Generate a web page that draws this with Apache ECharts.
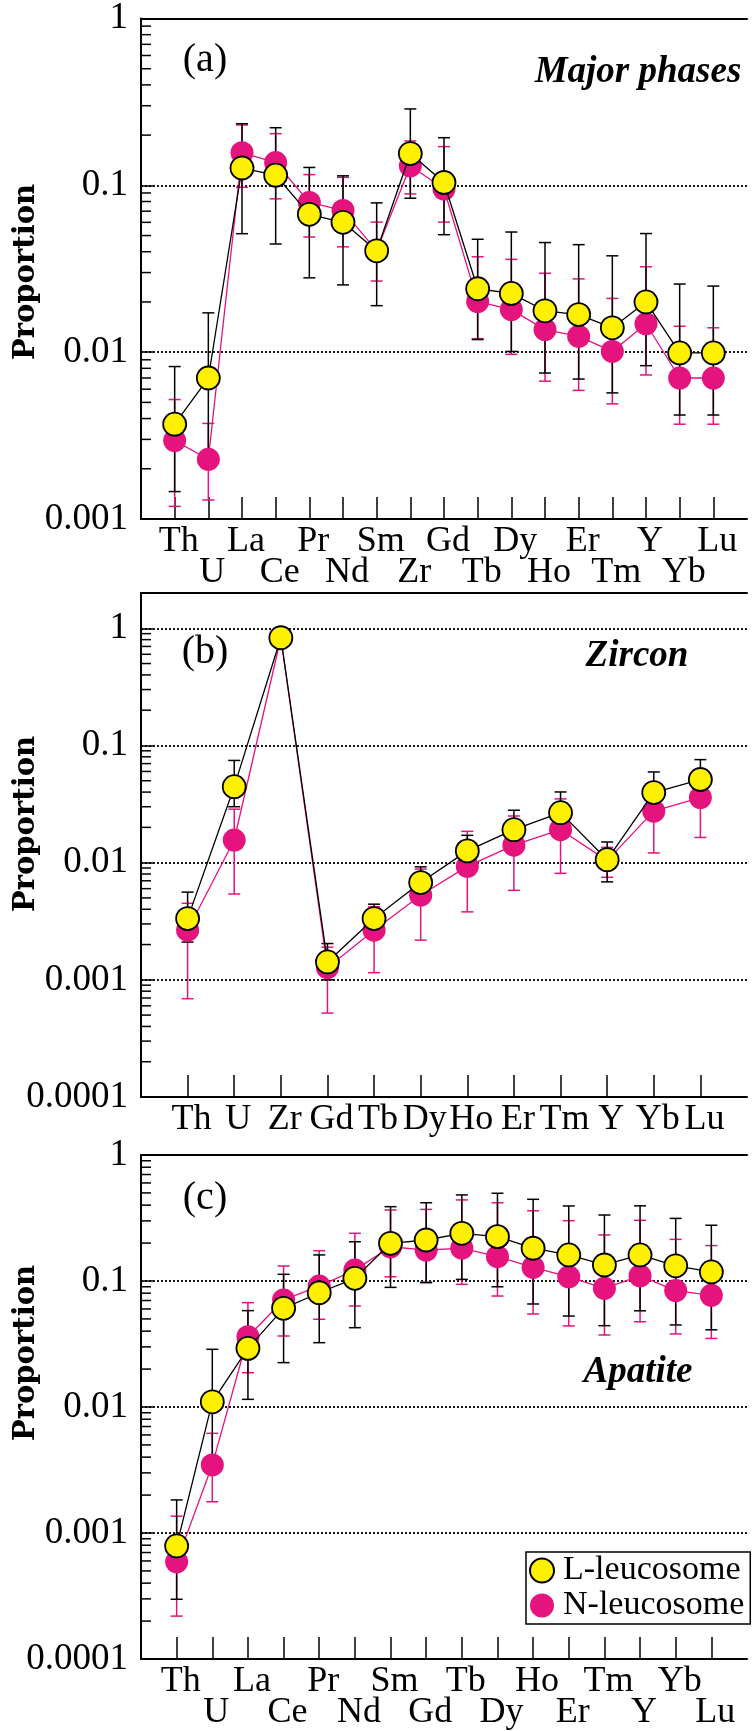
<!DOCTYPE html>
<html>
<head>
<meta charset="utf-8">
<title>Proportion</title>
<script src="https://cdn.jsdelivr.net/npm/echarts@6/dist/echarts.min.js"></script>
<style>html,body{margin:0;padding:0;background:#fff;}</style>
</head>
<body>
<div id="main" style="width:754px;height:1731px;"></div>
<script>
// (a) Major phases
var catsA = ['Th','U','La','Ce','Pr','Nd','Sm','Zr','Gd','Tb','Dy','Ho','Er','Tm','Y','Yb','Lu'];
var aL   = [0.0037,0.0070,0.127,0.115,0.067,0.060,0.0405,0.155,0.104,0.024,0.0225,0.0177,0.0168,0.0140,0.0200,0.0099,0.0099];
var aN   = [0.00295,0.00228,0.157,0.137,0.079,0.0707,0.0405,0.131,0.095,0.0201,0.0180,0.01365,0.01245,0.0101,0.0148,0.0070,0.0070];
var aLlo = [0.00146,0.0025,0.0513,0.0445,0.0279,0.0253,0.0190,0.0837,0.0506,0.0119,0.0101,0.0075,0.0069,0.0057,0.0083,0.0042,0.0042];
var aLhi = [0.0082,0.0172,0.234,0.2215,0.128,0.114,0.0785,0.287,0.193,0.0475,0.0525,0.0454,0.0441,0.0378,0.0514,0.0256,0.0249];
var aNlo = [0.00119,0.0013,0.0973,0.083,0.049,0.0428,0.0267,0.0888,0.0602,0.01205,0.0097,0.0067,0.0059,0.0049,0.0073,0.0037,0.0037];
var aNhi = [0.0052,0.00374,0.23,0.204,0.116,0.1116,0.0602,0.1845,0.1707,0.0373,0.036,0.0297,0.0275,0.021,0.0325,0.0143,0.0140];

// (b) Zircon
var catsB = ['Th','U','Zr','Gd','Tb','Dy','Ho','Er','Tm','Y','Yb','Lu'];
var bL   = [0.00333,0.0445,0.83,0.00142,0.00333,0.00676,0.0126,0.0191,0.0267,0.0106,0.0396,0.0512];
var bN   = [0.00265,0.0156,0.83,0.00127,0.00265,0.00527,0.0093,0.0141,0.0191,0.0104,0.0275,0.0359];
var bLlo = [0.0021,0.030,null,0.0010,0.0025,0.0050,0.0090,0.0140,0.0190,0.00685,0.027,0.037];
var bLhi = [0.0056,0.0745,null,0.00204,0.00442,0.0092,0.0171,0.028,0.0401,0.0150,0.0594,0.0757];
var bNlo = [0.00069,0.0054,null,0.00052,0.00115,0.00218,0.0038,0.0058,0.0081,0.0075,0.0121,0.0164];
var bNhi = [0.0045,0.0286,null,0.0019,0.0042,0.0088,0.0185,0.025,0.035,0.0135,0.045,0.060];

// (c) Apatite
var catsC = ['Th','U','La','Ce','Pr','Nd','Sm','Gd','Tb','Dy','Ho','Er','Tm','Y','Yb','Lu'];
var cL   = [0.00079,0.0110,0.0292,0.0607,0.0807,0.105,0.199,0.2115,0.239,0.225,0.182,0.161,0.134,0.161,0.132,0.118];
var cN   = [0.00059,0.00347,0.0361,0.0707,0.0912,0.122,0.187,0.176,0.182,0.156,0.128,0.108,0.0875,0.110,0.084,0.077];
var cLlo = [0.000298,0.004,0.0115,0.0225,0.0324,0.0426,0.089,0.097,0.103,0.090,0.0657,0.0527,0.0442,0.058,0.0448,0.0410];
var cLhi = [0.00183,0.0287,0.0582,0.113,0.161,0.205,0.389,0.418,0.482,0.497,0.445,0.394,0.334,0.395,0.314,0.277];
var cNlo = [0.000219,0.00177,0.0187,0.0366,0.0497,0.0633,0.108,0.098,0.094,0.076,0.0547,0.044,0.0373,0.0475,0.038,0.0350];
var cNhi = [0.00136,0.00618,0.0673,0.1315,0.174,0.239,0.366,0.37,0.44,0.418,0.361,0.301,0.232,0.303,0.214,0.191];

var SERIF = '"Liberation Serif", "Times New Roman", serif';
var YEL = '#fff000', MAG = '#e5137d';

var chart = echarts.init(document.getElementById('main'));

function padCats(cats) { return [''].concat(cats, ['']); }

function decadeLabel(v) {
    var l = Math.log10(v), e = Math.round(l);
    if (Math.abs(l - e) > 1e-6) return '';
    return e >= 0 ? String(Math.pow(10, e)) : Math.pow(10, e).toFixed(-e);
}

// minor log ticks 2..9 of each decade on the left axis
function minorTicks(min, max) {
    var out = [];
    for (var e = Math.floor(Math.log10(min)); e <= Math.ceil(Math.log10(max)); e++) {
        for (var k = 2; k <= 9; k++) {
            var v = k * Math.pow(10, e);
            if (v > min * 1.0001 && v < max * 0.9999) out.push([0, v]);
        }
    }
    return out;
}

function minorTickItem(params, api) {
    var p = api.coord([0, api.value(1)]);
    return { type: 'line', shape: { x1: p[0], y1: p[1], x2: p[0] + 10, y2: p[1] },
             style: { stroke: '#000', lineWidth: 1.5 } };
}

function errItem(color) {
    return function (params, api) {
        var x = api.value(0);
        var a = api.coord([x, api.value(2)]), b = api.coord([x, api.value(1)]);
        var w = 6, st = { stroke: color, lineWidth: 1.5 };
        return { type: 'group', children: [
            { type: 'line', shape: { x1: a[0], y1: a[1], x2: b[0], y2: b[1] }, style: st },
            { type: 'line', shape: { x1: a[0] - w, y1: a[1], x2: a[0] + w, y2: a[1] }, style: st },
            { type: 'line', shape: { x1: b[0] - w, y1: b[1], x2: b[0] + w, y2: b[1] }, style: st }
        ]};
    };
}

function errData(lo, hi) {
    var out = [];
    lo.forEach(function (v, i) { if (v != null && hi[i] != null) out.push([i + 1, v, hi[i]]); });
    return out;
}
function pts(vals) { return vals.map(function (v, i) { return [i + 1, v]; }); }

var grids = [], xAxes = [], topAxes = [], yAxes = [], series = [];
var panels = [
    { cats: catsA, L: aL, N: aN, Llo: aLlo, Lhi: aLhi, Nlo: aNlo, Nhi: aNhi, min: 0.001, max: 1, top: 15, twoRows: true },
    { cats: catsB, L: bL, N: bN, Llo: bLlo, Lhi: bLhi, Nlo: bNlo, Nhi: bNhi, min: 0.0001, max: 2, top: 593, twoRows: false },
    { cats: catsC, L: cL, N: cN, Llo: cLlo, Lhi: cLhi, Nlo: cNlo, Nhi: cNhi, min: 0.0001, max: 1, top: 1155, twoRows: true }
];

panels.forEach(function (p, g) {
    var n = p.cats.length;
    grids.push({ left: 141, top: p.top, width: 613, height: 504 });
    xAxes.push({
        type: 'category', gridIndex: g, data: padCats(p.cats), boundaryGap: false,
        axisLine: { lineStyle: { color: '#000', width: 2 } },
        axisTick: { inside: true, length: 22, lineStyle: { color: '#000', width: 1.5 },
                    interval: function (i) { return i > 0 && i <= n; } },
        axisLabel: { interval: 0, color: '#000', fontFamily: SERIF, fontSize: 36, lineHeight: 31,
                     margin: 7, padding: [0, 0, 0, 8],
                     formatter: function (v, i) { return (p.twoRows && i % 2 === 0) ? '\n' + v : v; } },
        splitLine: { show: false }
    });
    topAxes.push({
        type: 'value', gridIndex: g, position: 'top',
        axisLine: { show: true, onZero: false, lineStyle: { color: '#000', width: 2 } },
        axisTick: { show: false }, axisLabel: { show: false }, splitLine: { show: false }
    });
    yAxes.push({
        type: 'log', logBase: 10, gridIndex: g, min: p.min, max: p.max,
        axisLine: { show: true, onZero: false, lineStyle: { color: '#000', width: 2 } },
        axisTick: { inside: true, length: 12, lineStyle: { color: '#000', width: 1.5 } },
        axisLabel: { color: '#000', fontFamily: SERIF, fontSize: 37, margin: 13, padding: [8, 0, 0, 0],
                     formatter: decadeLabel },
        splitLine: { show: true, lineStyle: { color: '#000', type: [2, 2], width: 1.8 } }
    });
    series.push(
        { type: 'custom', xAxisIndex: g, yAxisIndex: g, silent: true, z: 1,
          data: minorTicks(p.min, p.max), renderItem: minorTickItem },
        { type: 'custom', xAxisIndex: g, yAxisIndex: g, silent: true, z: 2,
          data: errData(p.Nlo, p.Nhi), renderItem: errItem(MAG) },
        { type: 'custom', xAxisIndex: g, yAxisIndex: g, silent: true, z: 3,
          data: errData(p.Llo, p.Lhi), renderItem: errItem('#000') },
        { type: 'line', name: 'N-leucosome', xAxisIndex: g, yAxisIndex: g, z: 4,
          data: pts(p.N), symbol: 'circle', symbolSize: 23, showAllSymbol: true,
          itemStyle: { color: MAG, borderWidth: 0 }, lineStyle: { color: MAG, width: 1.3 } },
        { type: 'line', name: 'L-leucosome', xAxisIndex: g, yAxisIndex: g, z: 5,
          data: pts(p.L), symbol: 'circle', symbolSize: 23, showAllSymbol: true,
          itemStyle: { color: YEL, borderColor: '#000', borderWidth: 1.8 }, lineStyle: { color: '#000', width: 1.3 } }
    );
});

function label(text, x, y, font) {
    return { type: 'text', x: x, y: y, z: 10,
             style: { text: text, font: font, fill: '#000', align: 'center', verticalAlign: 'middle' } };
}
function yName(y) {
    return { type: 'text', x: 26, y: y, rotation: Math.PI / 2, z: 10,
             style: { text: 'Proportion', font: 'bold 29px "DejaVu Serif"', fill: '#000',
                      align: 'center', verticalAlign: 'middle' } };
}

var option = {
    animation: false,
    backgroundColor: '#fff',
    grid: grids,
    xAxis: xAxes.concat(topAxes),
    yAxis: yAxes,
    legend: {
        data: ['L-leucosome', 'N-leucosome'], orient: 'vertical', left: 526, top: 1552,
        icon: 'circle', itemWidth: 24, itemHeight: 24, itemGap: 0, selectedMode: false,
        textStyle: { fontFamily: SERIF, fontSize: 34, color: '#000', lineHeight: 35, padding: [0, 0, 0, 4] },
        borderColor: '#000', borderWidth: 1.5, borderRadius: 0, backgroundColor: '#fff',
        padding: [1, 6, 1, 3]
    },
    graphic: [
        label('(a)', 205, 60, '40px ' + SERIF),
        label('(b)', 205, 652, '40px ' + SERIF),
        label('(c)', 205, 1198, '40px ' + SERIF),
        label('Major phases', 638, 72, 'italic bold 37px ' + SERIF),
        label('Zircon', 637, 656, 'italic bold 37px ' + SERIF),
        label('Apatite', 638, 1372, 'italic bold 37px ' + SERIF),
        yName(272), yName(824), yName(1353)
    ],
    series: series
};
chart.setOption(option);
</script>
</body>
</html>
